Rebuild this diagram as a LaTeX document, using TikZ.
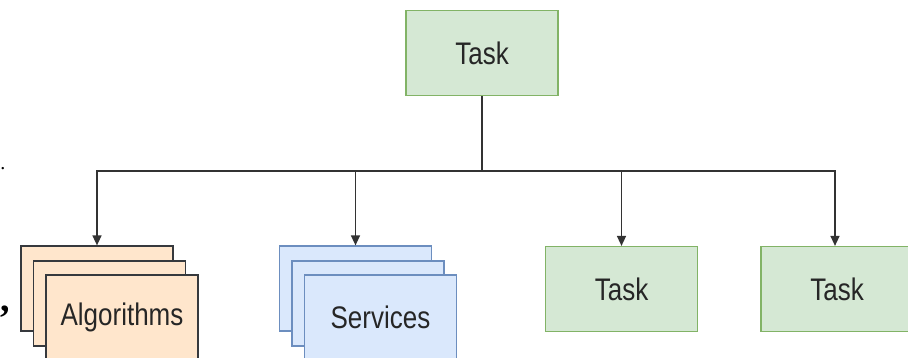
\documentclass[tikz,border=0pt]{standalone}
\usepackage{fontspec}
\setmainfont{Liberation Sans}
\newfontfamily\punctfont{Liberation Serif}
\usetikzlibrary{positioning,arrows.meta}

\definecolor{taskfill}{HTML}{D5E8D4}
\definecolor{taskline}{HTML}{82B366}
\definecolor{algofill}{HTML}{FFE6CC}
\definecolor{algoline}{HTML}{36393D}
\definecolor{servfill}{HTML}{DAE8FC}
\definecolor{servline}{HTML}{6C8EBF}

% labels are set a little taller than the font
\newcommand{\boxlabel}[1]{\scalebox{1}[1.2]{#1}}

\begin{document}
\begin{tikzpicture}[x=1pt,y=-1pt,
  box/.style={draw, line width=1.2pt, minimum width=152pt, minimum height=85pt,
    inner sep=0pt, text=black!85, font=\fontsize{26}{30}\selectfont},
  task/.style={box, fill=taskfill, draw=taskline},
  algo/.style={box, fill=algofill, draw=algoline},
  serv/.style={box, fill=servfill, draw=servline},
  link/.style={line width=1.4pt, draw=black!80, -{Triangle[width=9pt,length=10pt]}},
  punct/.style={inner sep=0pt, anchor=base, text=black, font=\punctfont\bfseries\fontsize{38}{40}\selectfont}]
  \useasboundingbox (0,0) rectangle (908,358);
  \clip (0,0) rectangle (908,358);

  % Nodes
  \node[task] (top) at (482,53) {\boxlabel{Task}} ;

  % stack of algorithms
  \node[algo] (algo3) at (97,288.5) {} ;
  \node[algo] (algo2) at ([shift={(12.5,15)}]algo3) {} ;
  \node[algo] (algo1) at ([shift={(12.5,14)}]algo2) {\boxlabel{Algorithms}} ;

  % stack of services
  \node[serv] (serv3) at (355.5,288.5) {} ;
  \node[serv] (serv2) at ([shift={(12.5,15)}]serv3) {} ;
  \node[serv] (serv1) at ([shift={(12.5,14)}]serv2) {\boxlabel{Services}} ;

  \node[task] (task1) at (621.5,289) {\boxlabel{Task}} ;
  \node[task] (task2) at (837,289) {\boxlabel{Task}} ;

  % punctuation from the text around
  \node[punct, font=\punctfont\fontsize{20}{22}\selectfont] (dot) at (3,170) {.} ;
  \node[punct] (comma) at (5,312) {,} ;

  % Connect the nodes
  \draw[link] (top.south) -- ++(0,75) -| (algo3.north) ;
  \draw[link] (top.south) -- ++(0,75) -| (serv3.north) ;
  \draw[link] (top.south) -- ++(0,75) -| (task1.north) ;
  \draw[link] (top.south) -- ++(0,75) -| ([xshift=-2pt]task2.north) ;
\end{tikzpicture}
\end{document}
